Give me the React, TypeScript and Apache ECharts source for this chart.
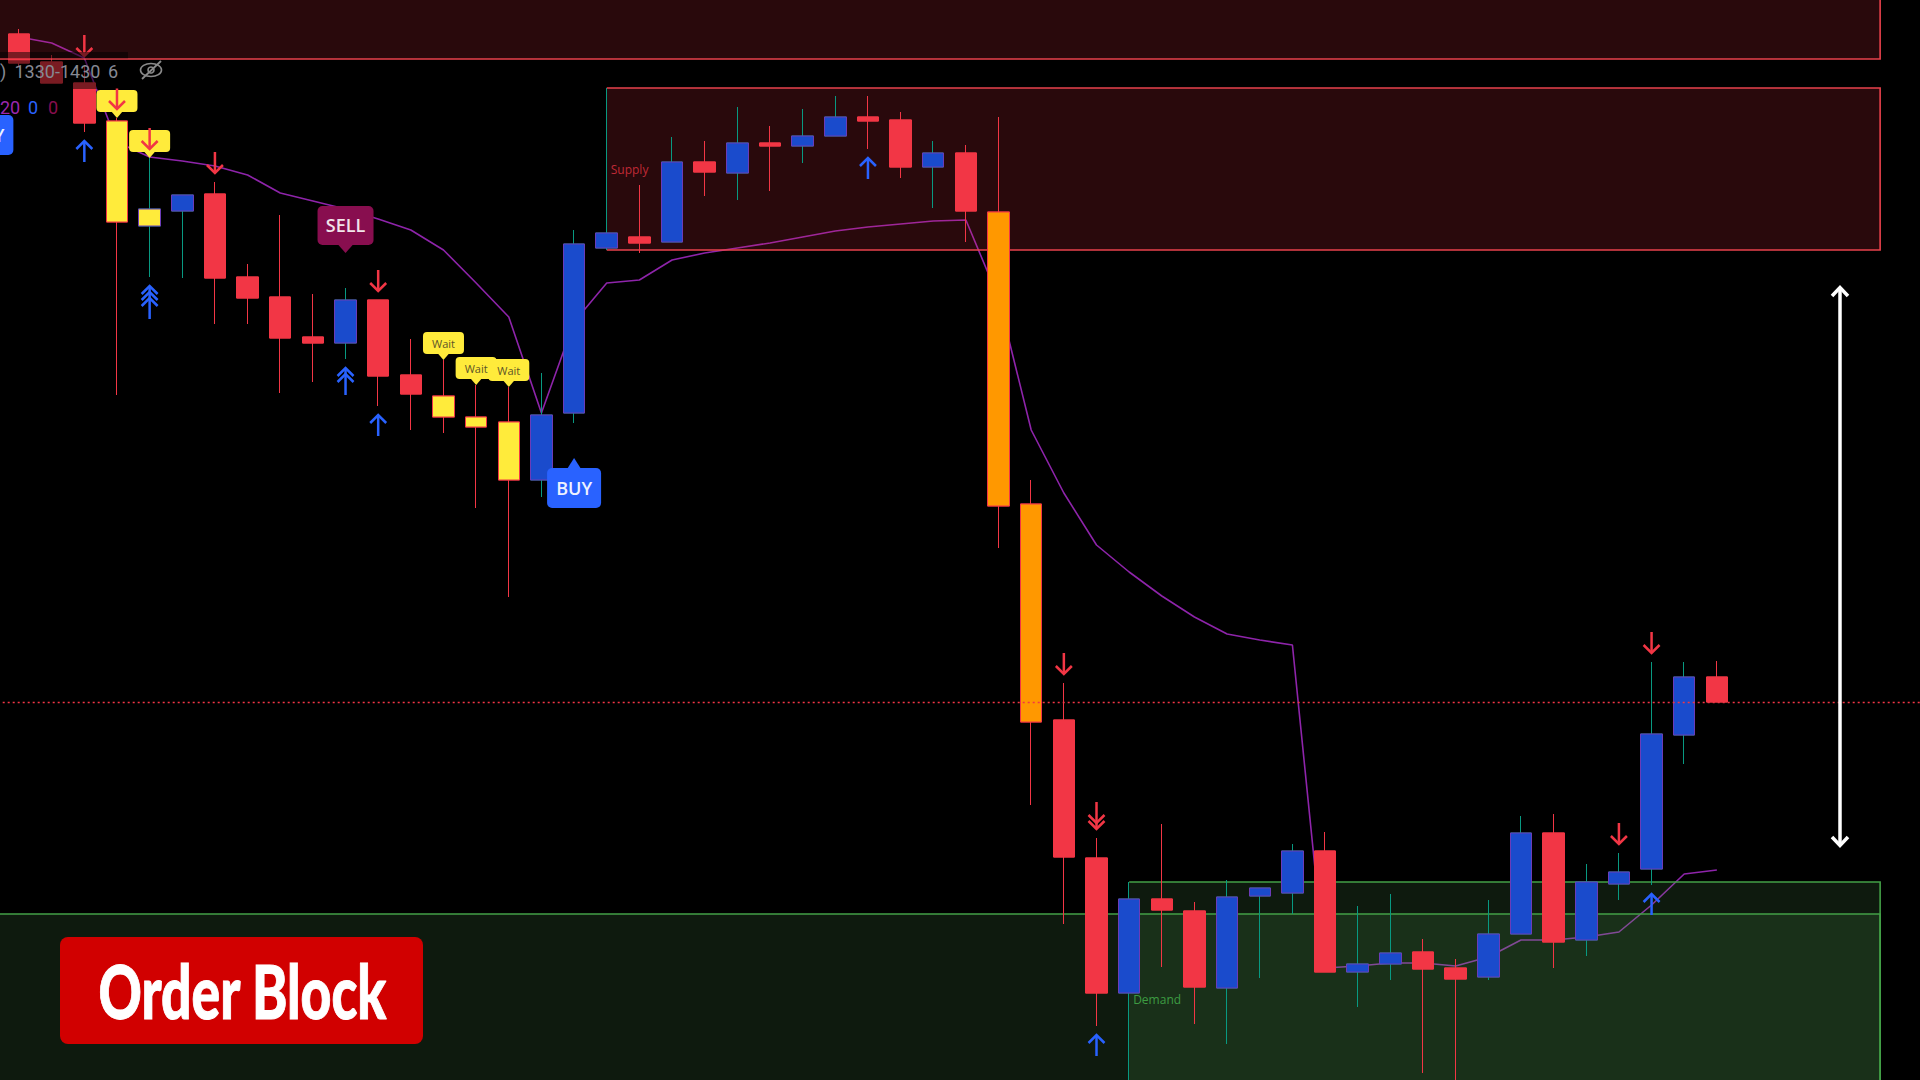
import React, { useEffect, useRef } from "react";
import * as echarts from "echarts";

// ---------------- data ----------------
const categories = [
  "10:00", "10:05", "10:10", "10:15", "10:20", "10:25", "10:30", "10:35", "10:40", "10:45", "10:50", "10:55",
  "11:00", "11:05", "11:10", "11:15", "11:20", "11:25", "11:30", "11:35", "11:40", "11:45", "11:50", "11:55",
  "12:00", "12:05", "12:10", "12:15", "12:20", "12:25", "12:30", "12:35", "12:40", "12:45", "12:50", "12:55",
  "13:00", "13:05", "13:10", "13:15", "13:20", "13:25", "13:30", "13:35", "13:40", "13:45", "13:50", "13:55",
  "14:00", "14:05", "14:10", "14:15", "14:20", "14:25", "14:30", "14:35", "14:40", "14:45", "14:50",
];

const opens = [
  2404.6, 2401.8, 2399.7, 2395.9, 2385.4, 2386.9, 2388.6, 2380.3, 2378.3, 2374.3,
  2373.7, 2378.0, 2370.5, 2368.4, 2366.3, 2365.8, 2360.0, 2366.7, 2383.2, 2384.3,
  2383.8, 2391.8, 2390.7, 2393.7, 2393.4, 2394.4, 2396.3, 2396.0, 2391.3, 2392.7,
  2386.8, 2357.6, 2336.0, 2322.2, 2308.7, 2318.1, 2316.9, 2309.2, 2318.4, 2318.7,
  2322.9, 2310.8, 2311.6, 2312.8, 2311.2, 2310.3, 2314.6, 2324.7, 2314.0, 2319.6,
  2321.1, 2334.5, 2340.3,
];
const closes = [
  2401.7, 2399.7, 2395.7, 2385.8, 2387.1, 2388.5, 2380.2, 2378.2, 2374.2, 2373.7,
  2378.0, 2370.4, 2368.6, 2366.3, 2365.3, 2360.0, 2366.5, 2383.6, 2384.7, 2383.7,
  2391.8, 2390.8, 2393.7, 2393.4, 2394.4, 2396.3, 2395.9, 2391.3, 2392.7, 2386.9,
  2357.4, 2335.8, 2322.3, 2308.7, 2318.1, 2317.0, 2309.3, 2318.3, 2319.2, 2322.9,
  2310.8, 2311.6, 2312.7, 2311.1, 2310.1, 2314.6, 2324.7, 2313.8, 2319.8, 2320.8,
  2334.6, 2340.3, 2337.8,
];
const lows = [
  2401.4, 2399.7, 2394.8, 2368.5, 2380.3, 2380.2, 2375.6, 2375.6, 2368.7, 2369.8,
  2372.1, 2367.4, 2365.0, 2364.7, 2357.2, 2348.3, 2358.3, 2365.7, 2383.0, 2382.7,
  2383.8, 2388.4, 2388.0, 2388.9, 2391.7, 2394.4, 2393.1, 2390.2, 2387.2, 2383.8,
  2353.2, 2327.5, 2315.6, 2305.4, 2296.4, 2311.3, 2305.6, 2303.6, 2310.2, 2316.6,
  2310.8, 2307.3, 2310.0, 2300.7, 2298.5, 2310.0, 2314.6, 2311.2, 2312.4, 2318.0,
  2319.5, 2331.6, 2337.8,
];
const highs = [
  2405.1, 2402.5, 2401.5, 2396.2, 2392.2, 2388.5, 2389.8, 2381.6, 2386.5, 2378.6,
  2379.2, 2378.0, 2374.1, 2372.0, 2369.5, 2369.3, 2370.7, 2385.0, 2399.2, 2389.5,
  2394.3, 2393.9, 2397.3, 2395.4, 2397.1, 2398.4, 2398.4, 2396.8, 2393.9, 2393.5,
  2396.3, 2360.0, 2339.7, 2324.2, 2319.8, 2325.6, 2317.8, 2320.0, 2319.2, 2323.6,
  2324.8, 2317.4, 2318.6, 2314.1, 2312.1, 2318.0, 2326.4, 2326.6, 2321.6, 2322.7,
  2341.8, 2341.8, 2341.9,
];
const trendLine = [
  2404.3, 2403.7, 2402.2, 2393.8, 2392.3, 2391.9, 2391.4, 2390.5, 2388.7, 2387.9,
  2387.1, 2386.1, 2385.0, 2383.0, 2379.7, 2376.3, 2366.7, 2375.8, 2379.7, 2380.0,
  2382.0, 2382.7, 2383.2, 2383.7, 2384.3, 2384.9, 2385.3, 2385.6, 2385.9, 2386.0,
  2378.2, 2365.0, 2358.7, 2353.5, 2350.8, 2348.4, 2346.3, 2344.6, 2344.0, 2343.5,
  2311.2, 2311.4, 2311.7, 2311.7, 2311.4, 2312.3, 2314.0, 2314.0, 2314.3, 2314.8,
  2317.5, 2320.6, 2321.0,
];

const yellowCandles = [3, 4, 13, 14, 15];
const orangeCandles = [30, 31];

const downArrowAt = [2, 3, 4, 6, 11, 32, 33, 49, 50];
const downArrowStack = [1, 1, 1, 1, 1, 1, 2, 1, 1];
const upArrowAt = [2, 4, 10, 11, 26, 33, 50];
const upArrowStack = [1, 3, 2, 1, 1, 1, 1];

const tagAt = [3, 4, 13, 14, 15];
const tagText = ["", "", "Wait", "Wait", "Wait"];
const sellAt = [10];
const buyAt = [-1, 17];
const buyAnchor = [2401.0, lows[17]];

const zoneKind = ["supply", "supply", "demand", "demand"];
const zoneFrom = [-6, 18, -6, 34];
const zoneTop = [2413, highs[18], 2316.6, highs[34]];
const zoneBottom = [2402.1, lows[18], 2290, lows[34]];
const zoneText = ["", "Supply", "", "Demand"];
const zoneTo = 57;

const priceMin = 2300;
const priceMax = 2408;

// ---------------- styles ----------------
const RED = "#f23645";
const BLUE_BODY = "#1a4bcc";
const BLUE_BORDER = "#6b3cb8";
const TEAL = "#089981";
const YELLOW = "#ffeb3b";
const ORANGE = "#ff9800";
const LINE_PURPLE = "#8e24aa";
const ARROW_BLUE = "#2962ff";
const SELL_BG = "#880e4f";

function measure(text: string, font: string): number {
  const c = document.createElement("canvas").getContext("2d");
  if (!c) return text.length * 30;
  c.font = font;
  return c.measureText(text).width;
}

function candleFill(i: number): string {
  const up = closes[i] > opens[i];
  if (yellowCandles.includes(i)) return YELLOW;
  if (orangeCandles.includes(i)) return ORANGE;
  return up ? BLUE_BODY : RED;
}

function buildOption(): any {
  const wickItems = opens.map((o, i) => {
    const up = closes[i] > o;
    const fill = candleFill(i);
    const wick = up ? TEAL : RED;
    return {
      value: [o, closes[i], lows[i], highs[i]],
      itemStyle: { color: fill, color0: fill, borderColor: wick, borderColor0: wick, borderWidth: 1 },
    };
  });
  const bodyItems = opens.map((o, i) => {
    const c = closes[i];
    const up = c > o;
    const fill = candleFill(i);
    const border = up ? BLUE_BORDER : RED;
    return {
      value: [o, c, Math.min(o, c), Math.max(o, c)],
      itemStyle: { color: fill, color0: fill, borderColor: border, borderColor0: border, borderWidth: 1 },
    };
  });

  const nZones = zoneKind.length;
  const zoneData = Array.from({ length: nZones * 2 }, (_, k) => [k, 2350]);

  const labelData: number[][] = [];
  tagAt.forEach((i, k) => labelData.push([i, highs[i], 0, k]));
  sellAt.forEach((i, k) => labelData.push([i, highs[i], 1, k]));
  buyAt.forEach((i, k) => labelData.push([i, buyAnchor[k], 2, k]));

  const obFont = '900 75px Lato';
  const obScale = 289 / measure("Order Block", obFont);

  return {
    backgroundColor: "#000",
    animation: false,
    grid: { left: 2.7, top: 0, width: 1926.4, height: 1080, containLabel: false, outerBoundsMode: "none" },
    xAxis: { type: "category", data: categories, show: false, boundaryGap: true },
    yAxis: { type: "value", min: priceMin, max: priceMax, show: false },
    series: [
      {
        name: "trend",
        type: "line",
        z: 1,
        data: trendLine,
        symbol: "none",
        silent: true,
        lineStyle: { color: LINE_PURPLE, width: 1.6 },
      },
      {
        name: "zones",
        type: "custom",
        z: 2,
        silent: true,
        clip: false,
        encode: { x: 0, y: 1 },
        data: zoneData,
        renderItem: (params: any, api: any) => {
          const k = api.value(0) as number;
          const z = k % nZones;
          const a = api.coord([zoneFrom[z], zoneTop[z]]);
          const b = api.coord([zoneTo, zoneBottom[z]]);
          const supply = zoneKind[z] === "supply";
          if (k < nZones) {
            return {
              type: "rect",
              shape: { x: a[0], y: a[1], width: b[0] - a[0], height: b[1] - a[1] },
              style: { fill: supply ? "rgba(242,54,69,0.17)" : "rgba(96,180,96,0.145)" },
            };
          }
          const children: any[] = [
            {
              type: "polyline",
              shape: { points: [[a[0], a[1]], [b[0], a[1]], [b[0], b[1]], [a[0], b[1]]] },
              style: { stroke: supply ? "#e8414c" : "#43a047", lineWidth: 1.6, fill: null },
            },
          ];
          if (zoneText[z]) {
            children.push({
              type: "text",
              x: a[0] + 4,
              y: (a[1] + b[1]) / 2,
              style: {
                text: zoneText[z],
                fill: supply ? "rgba(242,54,69,0.75)" : "#3d9c42",
                fontSize: 12,
                fontFamily: "Open Sans",
                align: "left",
                verticalAlign: "middle",
              },
            });
          }
          return { type: "group", children };
        },
      },
      {
        name: "wicks",
        type: "candlestick",
        z: 3,
        barWidth: 22,
        silent: true,
        data: wickItems,
      },
      {
        name: "bodies",
        type: "candlestick",
        z: 4,
        barWidth: 22,
        silent: true,
        data: bodyItems,
        markLine: {
          silent: true,
          symbol: ["none", "none"],
          label: { show: false },
          lineStyle: { color: RED, width: 1.3, type: [2, 3], opacity: 1 },
          data: [{ yAxis: closes[closes.length - 1] }],
        },
      },
      {
        name: "labels",
        type: "custom",
        z: 5,
        silent: true,
        clip: false,
        encode: { x: 0, y: 1 },
        data: labelData,
        renderItem: (params: any, api: any) => {
          const i = api.value(0) as number;
          const kind = api.value(2) as number;
          const k = api.value(3) as number;
          const p = api.coord([i, api.value(1)]);
          const x = p[0];
          if (kind === 0) {
            const tip = p[1];
            const children: any[] = [
              { type: "polygon", shape: { points: [[x - 6, tip - 7], [x, tip], [x + 6, tip - 7]] }, style: { fill: YELLOW } },
              { type: "rect", shape: { x: x - 20.5, y: tip - 28, width: 41, height: 22, r: 4 }, style: { fill: YELLOW } },
            ];
            if (tagText[k]) {
              children.push({
                type: "text",
                x,
                y: tip - 17,
                style: { text: tagText[k], fill: "#5c5428", fontSize: 11, fontFamily: "Open Sans", align: "center", verticalAlign: "middle" },
              });
            }
            return { type: "group", children };
          }
          if (kind === 1) {
            const tip = p[1] - 35;
            return {
              type: "group",
              children: [
                { type: "polygon", shape: { points: [[x - 8, tip - 9], [x, tip], [x + 8, tip - 9]] }, style: { fill: SELL_BG } },
                { type: "rect", shape: { x: x - 28, y: tip - 47, width: 56, height: 39, r: 5 }, style: { fill: SELL_BG } },
                {
                  type: "text",
                  x,
                  y: tip - 28.5,
                  style: { text: "SELL", fill: "#f1e4ea", fontSize: 18, fontWeight: 600, fontFamily: "Open Sans", align: "center", verticalAlign: "middle" },
                },
              ],
            };
          }
          const tip = p[1] + 35;
          return {
            type: "group",
            children: [
              { type: "polygon", shape: { points: [[x - 7, tip + 11], [x, tip], [x + 7, tip + 11]] }, style: { fill: ARROW_BLUE } },
              { type: "rect", shape: { x: x - 27, y: tip + 10, width: 54, height: 40, r: 5 }, style: { fill: ARROW_BLUE } },
              {
                type: "text",
                x,
                y: tip + 29.5,
                style: { text: "BUY", fill: "#eef2ff", fontSize: 18, fontWeight: 600, fontFamily: "Open Sans", align: "center", verticalAlign: "middle" },
              },
            ],
          };
        },
      },
      {
        name: "downArrows",
        type: "custom",
        z: 6,
        silent: true,
        clip: false,
        encode: { x: 0, y: 1 },
        data: downArrowAt.map((i, k) => [i, highs[i], k]),
        renderItem: (params: any, api: any) => {
          const k = api.value(2) as number;
          const p = api.coord([api.value(0), api.value(1)]);
          const x = p[0];
          const tip = p[1] - 8;
          const n = downArrowStack[k];
          const top = tip - 22 - 6 * (n - 1);
          const st = { stroke: RED, lineWidth: 2.5, fill: null };
          const children: any[] = [{ type: "line", shape: { x1: x, y1: top, x2: x, y2: tip - 1 }, style: st }];
          for (let c = 0; c < n; c++) {
            children.push({ type: "polyline", shape: { points: [[x - 8, tip - 9 - 6 * c], [x, tip - 1 - 6 * c], [x + 8, tip - 9 - 6 * c]] }, style: st });
          }
          return { type: "group", children };
        },
      },
      {
        name: "upArrows",
        type: "custom",
        z: 6,
        silent: true,
        clip: false,
        encode: { x: 0, y: 1 },
        data: upArrowAt.map((i, k) => [i, lows[i], k]),
        renderItem: (params: any, api: any) => {
          const k = api.value(2) as number;
          const p = api.coord([api.value(0), api.value(1)]);
          const x = p[0];
          const tip = p[1] + 8;
          const n = upArrowStack[k];
          const bottom = tip + 22 + 6 * (n - 1);
          const st = { stroke: ARROW_BLUE, lineWidth: 2.5, fill: null };
          const children: any[] = [{ type: "line", shape: { x1: x, y1: tip + 1, x2: x, y2: bottom }, style: st }];
          for (let c = 0; c < n; c++) {
            children.push({ type: "polyline", shape: { points: [[x - 8, tip + 9 + 6 * c], [x, tip + 1 + 6 * c], [x + 8, tip + 9 + 6 * c]] }, style: st });
          }
          return { type: "group", children };
        },
      },
    ],
    graphic: {
      elements: [
        // legend dimming band
        { type: "rect", z: 100, silent: true, shape: { x: 0, y: 52, width: 128, height: 6.3 }, style: { fill: "rgba(0,0,0,0.5)" } },
        { type: "rect", z: 100, silent: true, shape: { x: 0, y: 60.2, width: 128, height: 28.8 }, style: { fill: "rgba(0,0,0,0.5)" } },
        { type: "text", z: 101, silent: true, x: 0, y: 71, style: { text: ")", fill: "#868993", fontSize: 18, fontFamily: "Roboto", verticalAlign: "middle" } },
        { type: "text", z: 101, silent: true, x: 14.5, y: 71, style: { text: "1330-1430", fill: "#868993", fontSize: 18, fontFamily: "Roboto", verticalAlign: "middle" } },
        { type: "text", z: 101, silent: true, x: 108, y: 71, style: { text: "6", fill: "#868993", fontSize: 18, fontFamily: "Roboto", verticalAlign: "middle" } },
        { type: "text", z: 101, silent: true, x: 0, y: 107, style: { text: "20", fill: "#9c27b0", fontSize: 18, fontFamily: "Roboto", verticalAlign: "middle" } },
        { type: "text", z: 101, silent: true, x: 28, y: 107, style: { text: "0", fill: "#2962ff", fontSize: 18, fontFamily: "Roboto", verticalAlign: "middle" } },
        { type: "text", z: 101, silent: true, x: 48, y: 107, style: { text: "0", fill: "#880e4f", fontSize: 18, fontFamily: "Roboto", verticalAlign: "middle" } },
        // eye-slash icon
        {
          type: "group",
          z: 101,
          silent: true,
          x: 151,
          y: 70,
          children: [
            { type: "ellipse", z: 101, shape: { cx: 0, cy: 0, rx: 10.5, ry: 6.5 }, style: { stroke: "#8a8a8a", lineWidth: 1.6, fill: null } },
            { type: "circle", z: 101, shape: { cx: 0, cy: 0, r: 3 }, style: { stroke: "#8a8a8a", lineWidth: 1.6, fill: null } },
            { type: "line", z: 101, shape: { x1: -9, y1: 9, x2: 10, y2: -9 }, style: { stroke: "#8a8a8a", lineWidth: 1.8 } },
          ],
        },
        // Order Block badge
        { type: "rect", z: 100, silent: true, shape: { x: 60, y: 937, width: 363, height: 107, r: 8 }, style: { fill: "#d10000" } },
        {
          type: "text",
          z: 101,
          silent: true,
          x: 242.5,
          y: 990,
          scaleX: obScale,
          style: { text: "Order Block", fill: "#ffffff", font: obFont, align: "center", verticalAlign: "middle", stroke: "#ffffff", lineWidth: 1 },
        },
        // range arrow
        { type: "line", z: 100, silent: true, shape: { x1: 1840, y1: 288, x2: 1840, y2: 845 }, style: { stroke: "#ffffff", lineWidth: 3.5 } },
        { type: "polyline", z: 100, silent: true, shape: { points: [[1832, 296], [1840, 287.5], [1848, 296]] }, style: { stroke: "#ffffff", lineWidth: 3.5, fill: null } },
        { type: "polyline", z: 100, silent: true, shape: { points: [[1832, 837], [1840, 845.5], [1848, 837]] }, style: { stroke: "#ffffff", lineWidth: 3.5, fill: null } },
      ],
    },
  };
}

export default function App() {
  const ref = useRef<HTMLDivElement>(null);
  useEffect(() => {
    document.body.style.margin = "0";
    document.body.style.background = "#000";
    const chart = echarts.init(ref.current as HTMLDivElement, undefined, { renderer: "svg" });
    chart.setOption(buildOption());
    return () => chart.dispose();
  }, []);
  return (
    <div
      ref={ref}
      style={{ position: "fixed", left: 0, top: 0, width: 1920, height: 1080, background: "#000" }}
    />
  );
}
